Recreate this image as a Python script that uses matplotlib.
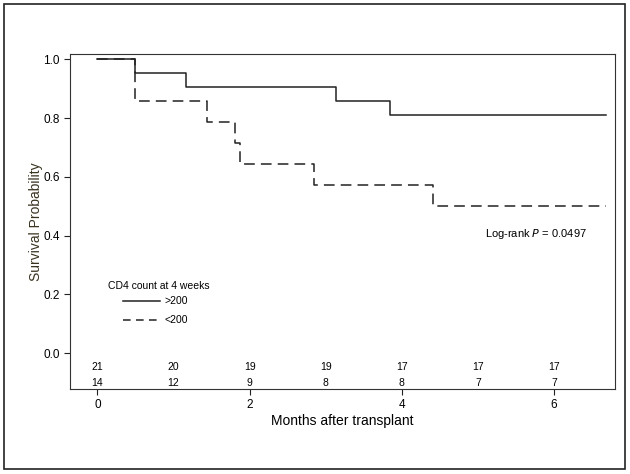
import matplotlib.pyplot as plt
from matplotlib.patches import Rectangle

plt.rcParams['font.family'] = ['Liberation Sans', 'DejaVu Sans']

# Kaplan-Meier steps (months, survival)
hi_t = [0, 0.5, 1.17, 3.14, 3.85, 6.68]
hi_s = [1.0, 0.952, 0.905, 0.857, 0.810, 0.810]
lo_t = [0, 0.5, 1.44, 1.81, 1.87, 2.84, 4.41, 6.68]
lo_s = [1.0, 0.857, 0.786, 0.714, 0.643, 0.571, 0.5, 0.5]

risk_t = [0, 1, 2, 3, 4, 5, 6]
risk_hi = [21, 20, 19, 19, 17, 17, 17]
risk_lo = [14, 12, 9, 8, 8, 7, 7]

fig = plt.figure(figsize=(6.3, 4.74), dpi=100)
fig.patches.append(Rectangle((4/630, 5/474), 621/630, 465/474, transform=fig.transFigure,
                             fill=False, edgecolor='#222222', linewidth=1.2))
ax = fig.add_axes([70/630, 85/474, 545/630, 335/474])

ax.step(lo_t, lo_s, where='post', color='#222222', lw=1.1, linestyle=(0, (7, 4)))
ax.step(hi_t, hi_s, where='post', color='#222222', lw=1.1)

for t, a, b in zip(risk_t, risk_hi, risk_lo):
    ax.text(t, -0.048, str(a), ha='center', va='center', fontsize=7.5)
    ax.text(t, -0.102, str(b), ha='center', va='center', fontsize=7.5)

ax.set_xlim(-0.36, 6.8)
ax.set_ylim(-0.122, 1.018)
ax.set_xticks([0, 2, 4, 6])
ax.set_yticks([0.0, 0.2, 0.4, 0.6, 0.8, 1.0])
ax.set_yticklabels(['0.0', '0.2', '0.4', '0.6', '0.8', '1.0'])
ax.tick_params(labelsize=8.5, length=4, color='#222222')
ax.set_xlabel('Months after transplant', fontsize=10, labelpad=2)
ax.set_ylabel('Survival Probability', fontsize=10, color='#3a3320', labelpad=0)
for s in ax.spines.values():
    s.set_color('#333333')

# legend
ax.text(0.14, 0.23, 'CD4 count at 4 weeks', fontsize=7.5, va='center')
ax.plot([0.34, 0.82], [0.176, 0.176], color='#222222', lw=1.1)
ax.text(0.88, 0.176, '>200', fontsize=7.5, va='center')
ax.plot([0.34, 0.82], [0.113, 0.113], color='#222222', lw=1.1, linestyle=(0, (5, 3.5)))
ax.text(0.88, 0.113, '<200', fontsize=7.5, va='center')

ax.text(5.09, 0.405, 'Log-rank $\\it{P}$ = 0.0497', fontsize=8, va='center')

fig.savefig('out.png', dpi=100)
